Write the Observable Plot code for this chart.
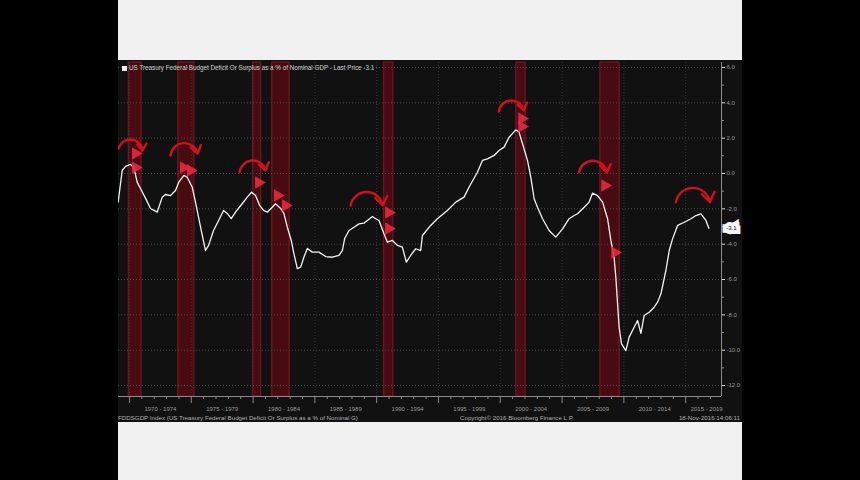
<!DOCTYPE html>
<html>
<head>
<meta charset="utf-8">
<script src="https://cdn.jsdelivr.net/npm/d3@7"></script>
<script src="https://cdn.jsdelivr.net/npm/@observablehq/plot@0.6"></script>
<style>
  html, body { margin: 0; padding: 0; background: #000; width: 860px; height: 480px; overflow: hidden; }
  #wrap { position: absolute; left: 118px; top: 0; width: 624px; height: 480px; font-family: "Liberation Sans", Arial, sans-serif; }
  #topbox { position: absolute; left: 0; top: 0; width: 624px; height: 60px; background: #f1f1f1; }
  #botbox { position: absolute; left: 0; top: 422px; width: 624px; height: 58px; background: #f1f1f1; }
  #chart { position: absolute; left: 0; top: 60px; width: 624px; height: 362px; }
  #legend { position: absolute; left: 4px; top: 64px; font-size: 6.3px; color: #d0d0d0; white-space: nowrap; }
  #legend span.sw { display: inline-block; width: 5px; height: 5px; background: #f0f0f0; margin-right: 2px; vertical-align: -0.5px; }
  .foot { position: absolute; top: 414px; font-size: 6.2px; color: #b0b0b0; white-space: nowrap; }
</style>
</head>
<body>
<div id="wrap">
  <div id="topbox"></div>
  <div id="chart"></div>
  <div id="legend"><span class="sw"></span>US Treasury Federal Budget Deficit Or Surplus as a % of Nominal GDP - Last Price -3.1</div>
  <div class="foot" style="left:0px">FDDSGDP Index (US Treasury Federal Budget Deficit Or Surplus as a % of Nominal G)</div>
  <div class="foot" style="left:342px">Copyright© 2016 Bloomberg Finance L.P.</div>
  <div class="foot" style="right:2px">18-Nov-2016 14:06:11</div>
  <div id="botbox"></div>
</div>
<script>
// ---- data (decimal year, % of GDP) ----
const years = [1969.08,1969.41,1969.68,1970.08,1970.35,1970.62,1970.89,1971.30,1971.70,1972.24,1972.65,1972.91,1973.32,1973.72,1973.99,1974.40,1974.67,1975.08,1975.34,1975.75,1976.15,1976.40,1976.80,1977.21,1977.61,1977.91,1978.23,1978.58,1979.13,1979.53,1979.88,1980.20,1980.53,1980.85,1981.15,1981.55,1981.82,1982.23,1982.49,1982.77,1983.09,1983.30,1983.58,1983.85,1984.11,1984.39,1984.79,1985.33,1985.87,1986.41,1986.95,1987.22,1987.41,1987.76,1988.16,1988.57,1988.97,1989.25,1989.65,1989.92,1990.19,1990.59,1990.87,1991.27,1991.68,1992.08,1992.40,1992.75,1993.16,1993.56,1993.70,1994.37,1994.91,1995.72,1996.40,1997.07,1997.47,1998.15,1998.56,1998.96,1999.50,1999.90,2000.31,2000.71,2001.26,2001.52,2001.80,2002.20,2002.47,2002.74,2003.01,2003.42,2003.95,2004.49,2005.04,2005.57,2005.98,2006.25,2006.79,2007.19,2007.47,2007.87,2008.28,2008.68,2008.95,2009.21,2009.35,2009.49,2009.62,2009.81,2010.16,2010.43,2010.83,2011.11,2011.38,2011.64,2012.05,2012.45,2012.73,2013.00,2013.40,2013.67,2013.94,2014.35,2014.89,2015.43,2015.83,2016.24,2016.64,2016.88];
const values = [-1.62,0.17,0.40,0.51,0.36,-0.49,-0.85,-1.41,-1.98,-2.19,-1.34,-1.19,-1.25,-0.96,-0.49,-0.11,-0.21,-0.78,-1.62,-3.04,-4.36,-4.07,-3.23,-2.66,-2.09,-2.26,-2.55,-2.19,-1.70,-1.34,-1.06,-1.25,-1.81,-2.09,-2.19,-1.91,-1.71,-1.98,-2.26,-3.04,-3.79,-4.53,-5.38,-5.30,-4.74,-4.24,-4.45,-4.45,-4.70,-4.74,-4.64,-4.36,-3.68,-3.23,-3.04,-2.85,-2.81,-2.66,-2.43,-2.56,-2.66,-3.41,-3.89,-3.79,-4.07,-4.17,-5.02,-4.64,-4.26,-4.36,-3.51,-2.94,-2.56,-2.09,-1.62,-1.34,-0.78,0.07,0.74,0.83,1.02,1.30,1.49,2.05,2.47,2.34,1.68,0.74,-0.21,-1.43,-1.91,-2.56,-3.23,-3.60,-3.13,-2.56,-2.38,-2.28,-1.91,-1.62,-1.11,-1.25,-1.62,-2.56,-3.79,-4.74,-5.87,-7.37,-8.70,-9.64,-10.02,-9.26,-8.70,-8.32,-9.05,-8.04,-7.85,-7.57,-7.28,-6.81,-5.49,-4.36,-3.70,-2.94,-2.76,-2.56,-2.38,-2.28,-2.66,-3.10];
const lastPrice = -3.1;

// recession shading (decimal years)
const recStart = [1969.95, 1973.95, 1980.00, 1981.55, 1990.60, 2001.30, 2008.10];
const recEnd   = [1970.97, 1975.25, 1980.65, 1982.95, 1991.35, 2002.05, 2009.65];

// curved red annotation arrows (start -> end)
const arrX1 = [1969.11, 1973.32, 1978.91, 1987.89, 1999.88, 2006.36, 2014.21];
const arrY1 = [1.41, 1.02, 0.06, -1.81, 3.51, 0.06, -1.62];
const arrX2 = [1971.05, 1975.51, 1981.01, 1990.49, 2001.90, 2008.62, 2016.96];
const arrY2 = [1.30, 1.13, 0.17, -1.81, 3.57, 0.06, -1.62];

// red flag markers on the line
const flagX = [1970.49, 1970.49, 1974.37, 1974.94, 1980.45, 1981.98, 1982.63, 1990.97, 1990.97, 2001.74, 2001.74, 2008.46, 2009.27];
const flagY = [1.13, 0.34, 0.34, 0.17, -0.51, -1.25, -1.81, -2.21, -3.11, 3.11, 2.66, -0.68, -4.47];

// axis ticks / labels
const periodStarts = [1970, 1975, 1980, 1985, 1990, 1995, 2000, 2005, 2010, 2015];
const periodLabels = ["1970 - 1974", "1975 - 1979", "1980 - 1984", "1985 - 1989", "1990 - 1994", "1995 - 1999", "2000 - 2004", "2005 - 2009", "2010 - 2014", "2015 - 2019"];
const yTicks = [-12, -10, -8, -6, -4, -2, 0, 2, 4, 6];
const yMinor = [-11, -9, -7, -5, -3, -1, 1, 3, 5];

// ---- build tables ----
const xDomain = [1969.11, 2017.9];
const yDomain = [-12.62, 6.28];
const series = years.map((x, i) => ({x, y: values[i]}));
const recs = recStart.map((s, i) => ({s, e: recEnd[i]}));
const arrows = arrX1.map((x1, i) => ({x1, y1: arrY1[i], x2: arrX2[i], y2: arrY2[i]}));
const flags = flagX.map((x, i) => ({x, y: flagY[i]}));
const labels = periodStarts.map((s, i) => ({x: Math.min(s + 2.5, xDomain[1] - 1.2), t: periodLabels[i]}));
const minorYears = d3.range(1970, 2018).filter(y => y % 5 !== 0);

const chart = Plot.plot({
  width: 624,
  height: 362,
  marginLeft: 0,
  marginRight: 21,
  marginTop: 2,
  marginBottom: 26,
  style: {background: "#111111", color: "#a8a8a8", fontFamily: "Liberation Sans, Arial, sans-serif", fontSize: "6px"},
  x: {domain: xDomain},
  y: {domain: yDomain},
  marks: [
    Plot.rect(recs, {x1: "s", x2: "e", fill: "#470b11", stroke: "#6a161e", strokeWidth: 1.4}),
    Plot.gridY(yTicks, {stroke: "#4a4a4a", strokeOpacity: 1, strokeDasharray: "1,2"}),
    Plot.gridX(periodStarts, {stroke: "#363636", strokeOpacity: 1, strokeDasharray: "1,2"}),
    Plot.ruleY([yDomain[0]], {stroke: "#8a8a8a", strokeWidth: 1}),
    Plot.ruleX([xDomain[1]], {stroke: "#8a8a8a", strokeWidth: 1}),
    Plot.axisX(periodStarts, {tickSize: 7, tickFormat: () => "", stroke: "#8a8a8a"}),
    Plot.axisX(minorYears, {tickSize: 3, tickFormat: () => "", stroke: "#8a8a8a"}),
    Plot.text(labels, {x: "x", text: "t", frameAnchor: "bottom", dy: 14, fill: "#9a9a9a", fontSize: 6}),
    Plot.axisY(yTicks, {anchor: "right", tickSize: 3, tickPadding: 2, tickFormat: d => d.toFixed(1), stroke: "#e0e0e0", fill: "#9a9a9a", fontSize: 6}),
    Plot.axisY(yMinor, {anchor: "right", tickSize: 2, tickFormat: () => "", stroke: "#8a8a8a"}),
    Plot.line(series, {x: "x", y: "y", stroke: "#f4f4f4", strokeWidth: 1.3}),
    Plot.dot(flags, {x: "x", y: "y", symbol: "triangle", rotate: 90, r: 4.6, fill: "#e8283f", fillOpacity: 0.9}),
    Plot.arrow(arrows, {x1: "x1", y1: "y1", x2: "x2", y2: "y2", bend: 80, stroke: "#d0101c", strokeWidth: 2.4, headLength: 8, headAngle: 70}),
    Plot.text([lastPrice], {x: xDomain[1], y: d => d, text: d => d.toFixed(1), dx: 10, fill: "#111", stroke: "#f4f4f4", strokeWidth: 8, strokeLinejoin: "miter", fontSize: 6})
  ]
});
document.getElementById("chart").appendChild(chart);
</script>
</body>
</html>
